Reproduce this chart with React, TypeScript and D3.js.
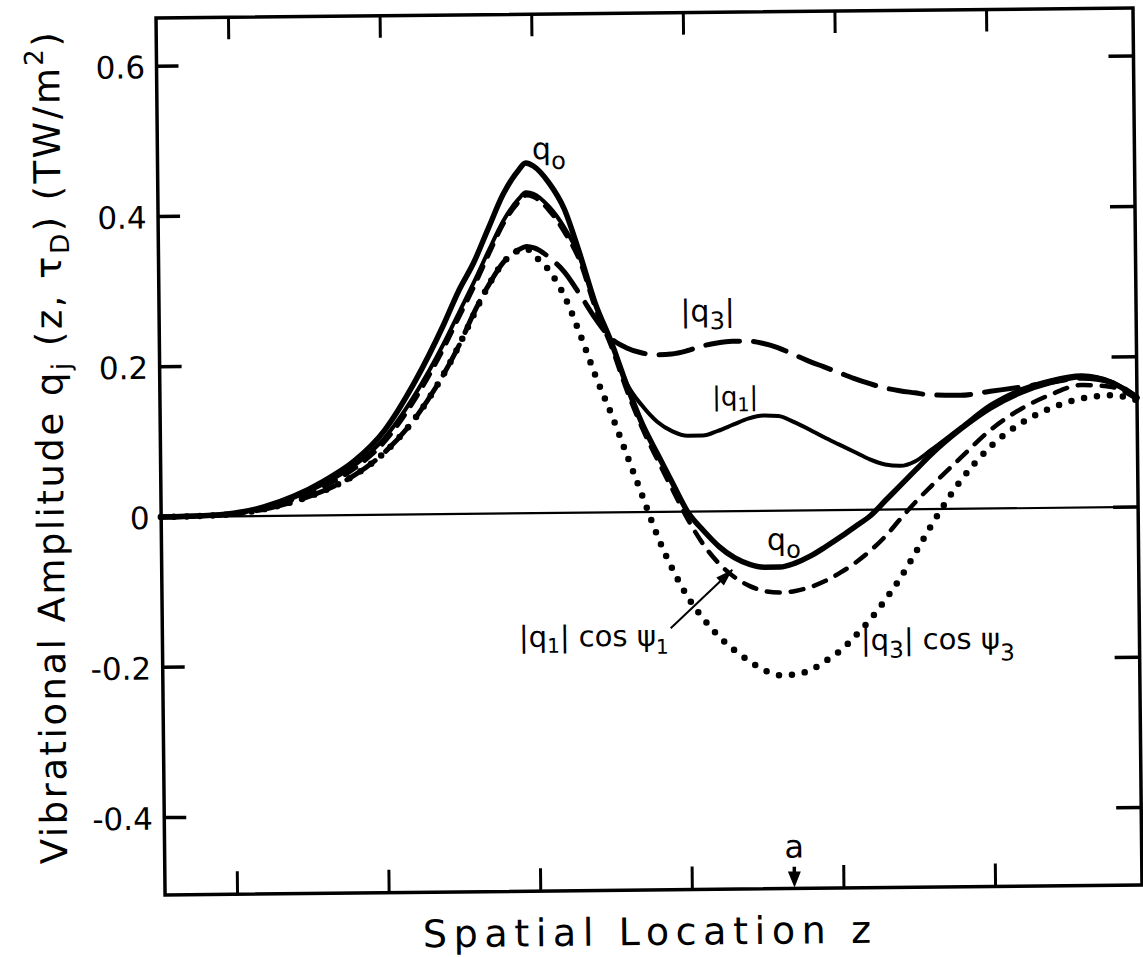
import React from "react";
import * as d3 from "d3";

// ---------- data ----------
// spatial location z in tick units (ticks at 1..6)
const zGrid = [
  0.52, 0.8, 1.0, 1.2, 1.4, 1.6, 1.8, 2.0, 2.2, 2.4, 2.5, 2.6, 2.7, 2.8, 2.9, 2.95,
  3.0, 3.1, 3.2, 3.3, 3.4, 3.5, 3.6, 3.7, 3.8, 3.9, 4.0, 4.1, 4.2, 4.3, 4.4, 4.5,
  4.6, 4.7, 4.8, 4.9, 5.0, 5.1, 5.2, 5.3, 5.4, 5.5, 5.6, 5.8, 6.0, 6.2, 6.4, 6.6,
  6.8, 6.966,
];
const q0 = [
  0, 0.001, 0.004, 0.012, 0.026, 0.046, 0.072, 0.112, 0.175, 0.253, 0.297, 0.334, 0.38, 0.425, 0.456, 0.466,
  0.462, 0.44, 0.405, 0.345, 0.278, 0.228, 0.17, 0.118, 0.077, 0.037, -0.002, -0.026, -0.047, -0.062, -0.071, -0.075,
  -0.075, -0.07, -0.061, -0.049, -0.036, -0.022, -0.008, 0.012, 0.032, 0.052, 0.072, 0.106, 0.134, 0.154, 0.167, 0.174,
  0.166, 0.145,
];
const q1Abs = [
  0, 0.001, 0.004, 0.011, 0.024, 0.042, 0.066, 0.102, 0.158, 0.228, 0.268, 0.308, 0.35, 0.39, 0.418, 0.427,
  0.425, 0.408, 0.38, 0.34, 0.278, 0.228, 0.172, 0.142, 0.12, 0.107, 0.101, 0.101, 0.107, 0.115, 0.123, 0.127,
  0.126, 0.118, 0.108, 0.097, 0.087, 0.077, 0.067, 0.06, 0.058, 0.064, 0.078, 0.108, 0.138, 0.158, 0.17, 0.176,
  0.167, 0.147,
];
const q3Abs = [
  0, 0.001, 0.003, 0.009, 0.019, 0.033, 0.053, 0.083, 0.127, 0.188, 0.225, 0.268, 0.305, 0.335, 0.351, 0.355,
  0.353, 0.34, 0.32, 0.29, 0.258, 0.232, 0.219, 0.212, 0.209, 0.21, 0.214, 0.22, 0.224, 0.226, 0.226, 0.223,
  0.217, 0.208, 0.199, 0.191, 0.183, 0.175, 0.168, 0.162, 0.158, 0.155, 0.152, 0.151, 0.156, 0.161, 0.167, 0.172,
  0.166, 0.146,
];
const q1Cos = [
  0, 0.001, 0.003, 0.01, 0.022, 0.039, 0.062, 0.097, 0.152, 0.222, 0.262, 0.302, 0.345, 0.386, 0.414, 0.423,
  0.421, 0.403, 0.374, 0.335, 0.272, 0.222, 0.163, 0.112, 0.069, 0.028, -0.012, -0.045, -0.07, -0.088, -0.1, -0.107,
  -0.109, -0.107, -0.102, -0.094, -0.083, -0.07, -0.054, -0.035, -0.012, 0.01, 0.03, 0.068, 0.105, 0.132, 0.151, 0.163,
  0.16, 0.143,
];
const q3Cos = [
  0, 0.001, 0.003, 0.009, 0.019, 0.033, 0.053, 0.083, 0.127, 0.188, 0.225, 0.266, 0.305, 0.335, 0.35, 0.352,
  0.343, 0.322, 0.287, 0.236, 0.18, 0.13, 0.075, 0.02, -0.035, -0.08, -0.117, -0.145, -0.168, -0.186, -0.201, -0.213,
  -0.219, -0.218, -0.212, -0.2, -0.186, -0.166, -0.144, -0.118, -0.089, -0.056, -0.022, 0.038, 0.083, 0.113, 0.133, 0.145,
  0.149, 0.142,
];
const yTicks = [0.6, 0.4, 0.2, 0, -0.2, -0.4];
const yTickLabels = ["0.6", "0.4", "0.2", "0", "-0.2", "-0.4"];
const zTicks = [1, 2, 3, 4, 5, 6];
const zMarkA = 4.674;

// ---------- layout ----------
const W = 1143;
const H = 957;
const FONT = "'DejaVu Sans', 'Liberation Sans', Arial, sans-serif";

const x = d3.scaleLinear().domain([0.522, 6.966]).range([160.5, 1137.5]);
const y = d3.scaleLinear().domain([-0.503, 0.664]).range([890, 13]);

type Series = {
  name: string;
  values: number[];
  width: number;
  dash?: string;
};

const series: Series[] = [
  { name: "|q3|", values: q3Abs, width: 5, dash: "34 14" },
  { name: "|q3| cos psi3", values: q3Cos, width: 6.5, dash: "0 13" },
  { name: "|q1| cos psi1", values: q1Cos, width: 4.5, dash: "13 11" },
  { name: "|q1|", values: q1Abs, width: 4 },
  { name: "q0", values: q0, width: 5.5 },
];

const line = d3
  .line<[number, number]>()
  .x((d) => x(d[0]))
  .y((d) => y(d[1]))
  .curve(d3.curveMonotoneX);

function arrowHead(x1: number, y1: number, x2: number, y2: number, len: number, half: number) {
  const dx = x2 - x1;
  const dy = y2 - y1;
  const L = Math.hypot(dx, dy);
  const ux = dx / L;
  const uy = dy / L;
  const bx = x2 - ux * len;
  const by = y2 - uy * len;
  return `${x2},${y2} ${bx - uy * half},${by + ux * half} ${bx + uy * half},${by - ux * half}`;
}

export default function App() {
  const left = x(0.522);
  const right = x(6.966);
  const top = y(0.664);
  const bottom = y(-0.503);

  // |q1| cos psi1 pointer arrow (data coords)
  const arTail: [number, number] = [3.875, -0.155];
  const arHead: [number, number] = [4.286, -0.078];
  const ax1 = x(arTail[0]), ay1 = y(arTail[1]), ax2 = x(arHead[0]), ay2 = y(arHead[1]);

  const aX = x(zMarkA);
  const aTop = y(-0.474);

  return (
    <svg
      width={W}
      height={H}
      viewBox={`0 0 ${W} ${H}`}
      style={{ position: "absolute", left: 0, top: 0, background: "#fff" }}
      fontFamily={FONT}
    >
      <rect x={0} y={0} width={W} height={H} fill="#fff" />
      <g transform="rotate(-0.59 650 450)">
        {/* zero line */}
        <line x1={left} x2={right} y1={y(0)} y2={y(0)} stroke="#000" strokeWidth={2.2} />

        {/* frame */}
        <rect x={left} y={top} width={right - left} height={bottom - top} fill="none" stroke="#000" strokeWidth={3.5} />

        {/* y ticks left and right */}
        {yTicks.map((t) => (
          <g key={"yt" + t}>
            <line x1={left} x2={left + 22} y1={y(t)} y2={y(t)} stroke="#000" strokeWidth={3.5} />
            <line x1={right - 25} x2={right} y1={y(t)} y2={y(t)} stroke="#000" strokeWidth={3.5} />
          </g>
        ))}
        {yTicks.map((t, i) => (
          <text key={"yl" + t} x={149} y={y(t) + 12} fontSize={31} textAnchor="end" fill="#000">
            {yTickLabels[i]}
          </text>
        ))}

        {/* z ticks top and bottom */}
        {zTicks.map((t) => (
          <g key={"zt" + t}>
            <line x1={x(t)} x2={x(t)} y1={top} y2={top + 22} stroke="#000" strokeWidth={3} />
            <line x1={x(t)} x2={x(t)} y1={bottom} y2={bottom - 23} stroke="#000" strokeWidth={3} />
          </g>
        ))}

        {/* curves */}
        {series.map((s) => (
          <path
            key={s.name}
            d={line(zGrid.map((z, i) => [z, s.values[i]] as [number, number])) || ""}
            fill="none"
            stroke="#000"
            strokeWidth={s.width}
            strokeDasharray={s.dash}
            strokeLinecap="round"
            strokeLinejoin="round"
          />
        ))}

        {/* curve labels */}
        <text x={x(2.992)} y={y(0.471)} fontSize={30} fill="#000">
          q<tspan fontSize={24} dy={10}>o</tspan>
        </text>
        <text x={x(3.96)} y={y(0.253)} fontSize={30} fill="#000">
          |q<tspan fontSize={24} dy={8}>3</tspan>
          <tspan dy={-8}>|</tspan>
        </text>
        <text x={x(4.164)} y={y(0.1407)} fontSize={26} fill="#000">
          |q<tspan fontSize={19} dy={6}>1</tspan>
          <tspan dy={-6}>|</tspan>
        </text>
        <text x={x(4.516)} y={y(-0.0522)} fontSize={30} fill="#000">
          q<tspan fontSize={24} dy={8}>o</tspan>
        </text>
        <text x={x(2.873)} y={y(-0.178)} fontSize={29} fill="#000">
          |q<tspan fontSize={20} dy={6}>1</tspan>
          <tspan dy={-6}>| cos ψ</tspan>
          <tspan fontSize={20} dy={8}>1</tspan>
        </text>
        <text x={x(5.129)} y={y(-0.1865)} fontSize={29} fill="#000">
          |q<tspan fontSize={23} dy={8}>3</tspan>
          <tspan dy={-8}>| cos ψ</tspan>
          <tspan fontSize={23} dy={12}>3</tspan>
        </text>

        {/* pointer arrow for |q1| cos psi1 */}
        <line x1={ax1} y1={ay1} x2={ax2} y2={ay2} stroke="#000" strokeWidth={2} />
        <polygon points={arrowHead(ax1, ay1, ax2, ay2, 17, 5.5)} fill="#000" />

        {/* marker a */}
        <text x={aX} y={y(-0.462)} fontSize={32} textAnchor="middle" fill="#000">
          a
        </text>
        <line x1={aX} x2={aX} y1={aTop} y2={bottom - 10} stroke="#000" strokeWidth={3.5} />
        <polygon points={arrowHead(aX, aTop, aX, bottom - 1, 16, 6.5)} fill="#000" />

        {/* axis titles */}
        <text x={418} y={945} fontSize={38} fill="#000" textLength={448} lengthAdjust="spacing">
          Spatial Location z
        </text>
        <text
          transform="translate(63,858) rotate(-90)"
          fontSize={37}
          fill="#000"
          textLength={832}
          lengthAdjust="spacing"
        >
          Vibrational Amplitude q<tspan fontSize={26} dy={8}>j</tspan>
          <tspan dy={-8}> (z, τ</tspan>
          <tspan fontSize={26} dy={8}>D</tspan>
          <tspan dy={-8}>) (TW/m</tspan>
          <tspan fontSize={26} dy={-16}>2</tspan>
          <tspan dy={16}>)</tspan>
        </text>
      </g>
    </svg>
  );
}
